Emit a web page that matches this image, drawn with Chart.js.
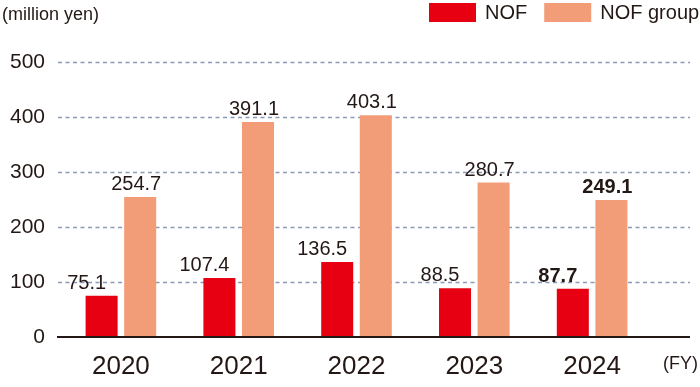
<!DOCTYPE html>
<html>
<head>
<meta charset="utf-8">
<script src="https://cdn.jsdelivr.net/npm/chart.js@4.4.1/dist/chart.umd.min.js"></script>
<style>
  html, body { margin: 0; padding: 0; background: #fff; }
  #wrap { width: 700px; height: 387px; position: relative; }
</style>
</head>
<body>
<div id="wrap"><canvas id="graficoCO2"></canvas></div>
<script>
// datos
const years = ['2020', '2021', '2022', '2023', '2024'];
const nofValues = [75.1, 107.4, 136.5, 88.5, 87.7];
const groupValues = [254.7, 391.1, 403.1, 280.7, 249.1];
const yTicks = [0, 100, 200, 300, 400, 500];

const textColor = '#231815';
const fontFamily = '"Liberation Sans", Arial, Helvetica, sans-serif';
Chart.defaults.font.family = fontFamily;
Chart.defaults.color = textColor;

// lineas punteadas, eje base y textos sueltos
const decoPlugin = {
  id: 'deco',
  beforeDatasetsDraw(chart) {
    const { ctx, scales: { y }, chartArea } = chart;
    ctx.save();
    ctx.strokeStyle = '#8a9bb3';
    ctx.lineWidth = 1.3;
    ctx.setLineDash([4, 3.5]);
    yTicks.forEach(t => {
      if (t === 0) return;
      const py = Math.round(y.getPixelForValue(t)) + 0.5;
      ctx.beginPath();
      ctx.moveTo(chartArea.left - 4, py);
      ctx.lineTo(chartArea.right + 39, py);
      ctx.stroke();
    });
    ctx.restore();
  },
  afterDatasetsDraw(chart) {
    const { ctx, scales: { y }, chartArea } = chart;
    ctx.save();
    // eje x
    const py0 = y.getPixelForValue(0);
    ctx.strokeStyle = textColor;
    ctx.lineWidth = 2;
    ctx.beginPath();
    ctx.moveTo(chartArea.left - 5, py0);
    ctx.lineTo(chartArea.right + 39, py0);
    ctx.stroke();

    // etiquetas de valores
    ctx.fillStyle = textColor;
    ctx.textAlign = 'center';
    ctx.textBaseline = 'alphabetic';
    const offsets = [-15, -4];
    chart.data.datasets.forEach((ds, di) => {
      const meta = chart.getDatasetMeta(di);
      meta.data.forEach((bar, i) => {
        const bold = years[i] === '2024';
        ctx.font = (bold ? 'bold ' : '') + '20px ' + fontFamily;
        ctx.fillText(ds.data[i].toFixed(1), bar.x + offsets[di], bar.y - 7);
      });
    });

    // unidades
    ctx.font = '18px ' + fontFamily;
    ctx.textAlign = 'left';
    ctx.textBaseline = 'middle';
    ctx.fillText('(million yen)', 2, 15);
    ctx.textAlign = 'right';
    ctx.fillText('(FY)', 698, 364);

    // leyenda
    ctx.font = '20px ' + fontFamily;
    ctx.textAlign = 'left';
    let lx = 429;
    chart.data.datasets.forEach(ds => {
      ctx.fillStyle = ds.backgroundColor;
      ctx.fillRect(lx, 3, 47, 19);
      ctx.fillStyle = textColor;
      ctx.fillText(ds.label, lx + 56, 13);
      lx += 56 + ctx.measureText(ds.label).width + 17;
    });
    ctx.restore();
  }
};

const ctxCO2 = document.getElementById('graficoCO2').getContext('2d');
new Chart(ctxCO2, {
  type: 'bar',
  data: {
    labels: years,
    datasets: [
      {
        label: 'NOF',
        data: nofValues,
        backgroundColor: '#e60012',
        barPercentage: 0.83,
        categoryPercentage: 0.655
      },
      {
        label: 'NOF group',
        data: groupValues,
        backgroundColor: '#f29c78',
        barPercentage: 0.83,
        categoryPercentage: 0.655
      }
    ]
  },
  options: {
    responsive: true,
    maintainAspectRatio: false,
    animation: false,
    layout: { padding: { top: 62, right: 49, bottom: 0, left: 0 } },
    plugins: {
      legend: { display: false },
      tooltip: { enabled: false }
    },
    scales: {
      x: {
        grid: { display: false, drawTicks: false },
        border: { display: false },
        ticks: { font: { size: 26 }, color: textColor, padding: 14 },
        afterFit(scale) { scale.height = 50; }
      },
      y: {
        min: 0,
        max: 500,
        afterBuildTicks(scale) { scale.ticks = yTicks.map(v => ({ value: v })); },
        grid: { display: false, drawTicks: false },
        border: { display: false },
        ticks: { font: { size: 21 }, color: textColor, padding: 17 },
        afterFit(scale) { scale.width = 62; }
      }
    }
  },
  plugins: [decoPlugin]
});
</script>
</body>
</html>
